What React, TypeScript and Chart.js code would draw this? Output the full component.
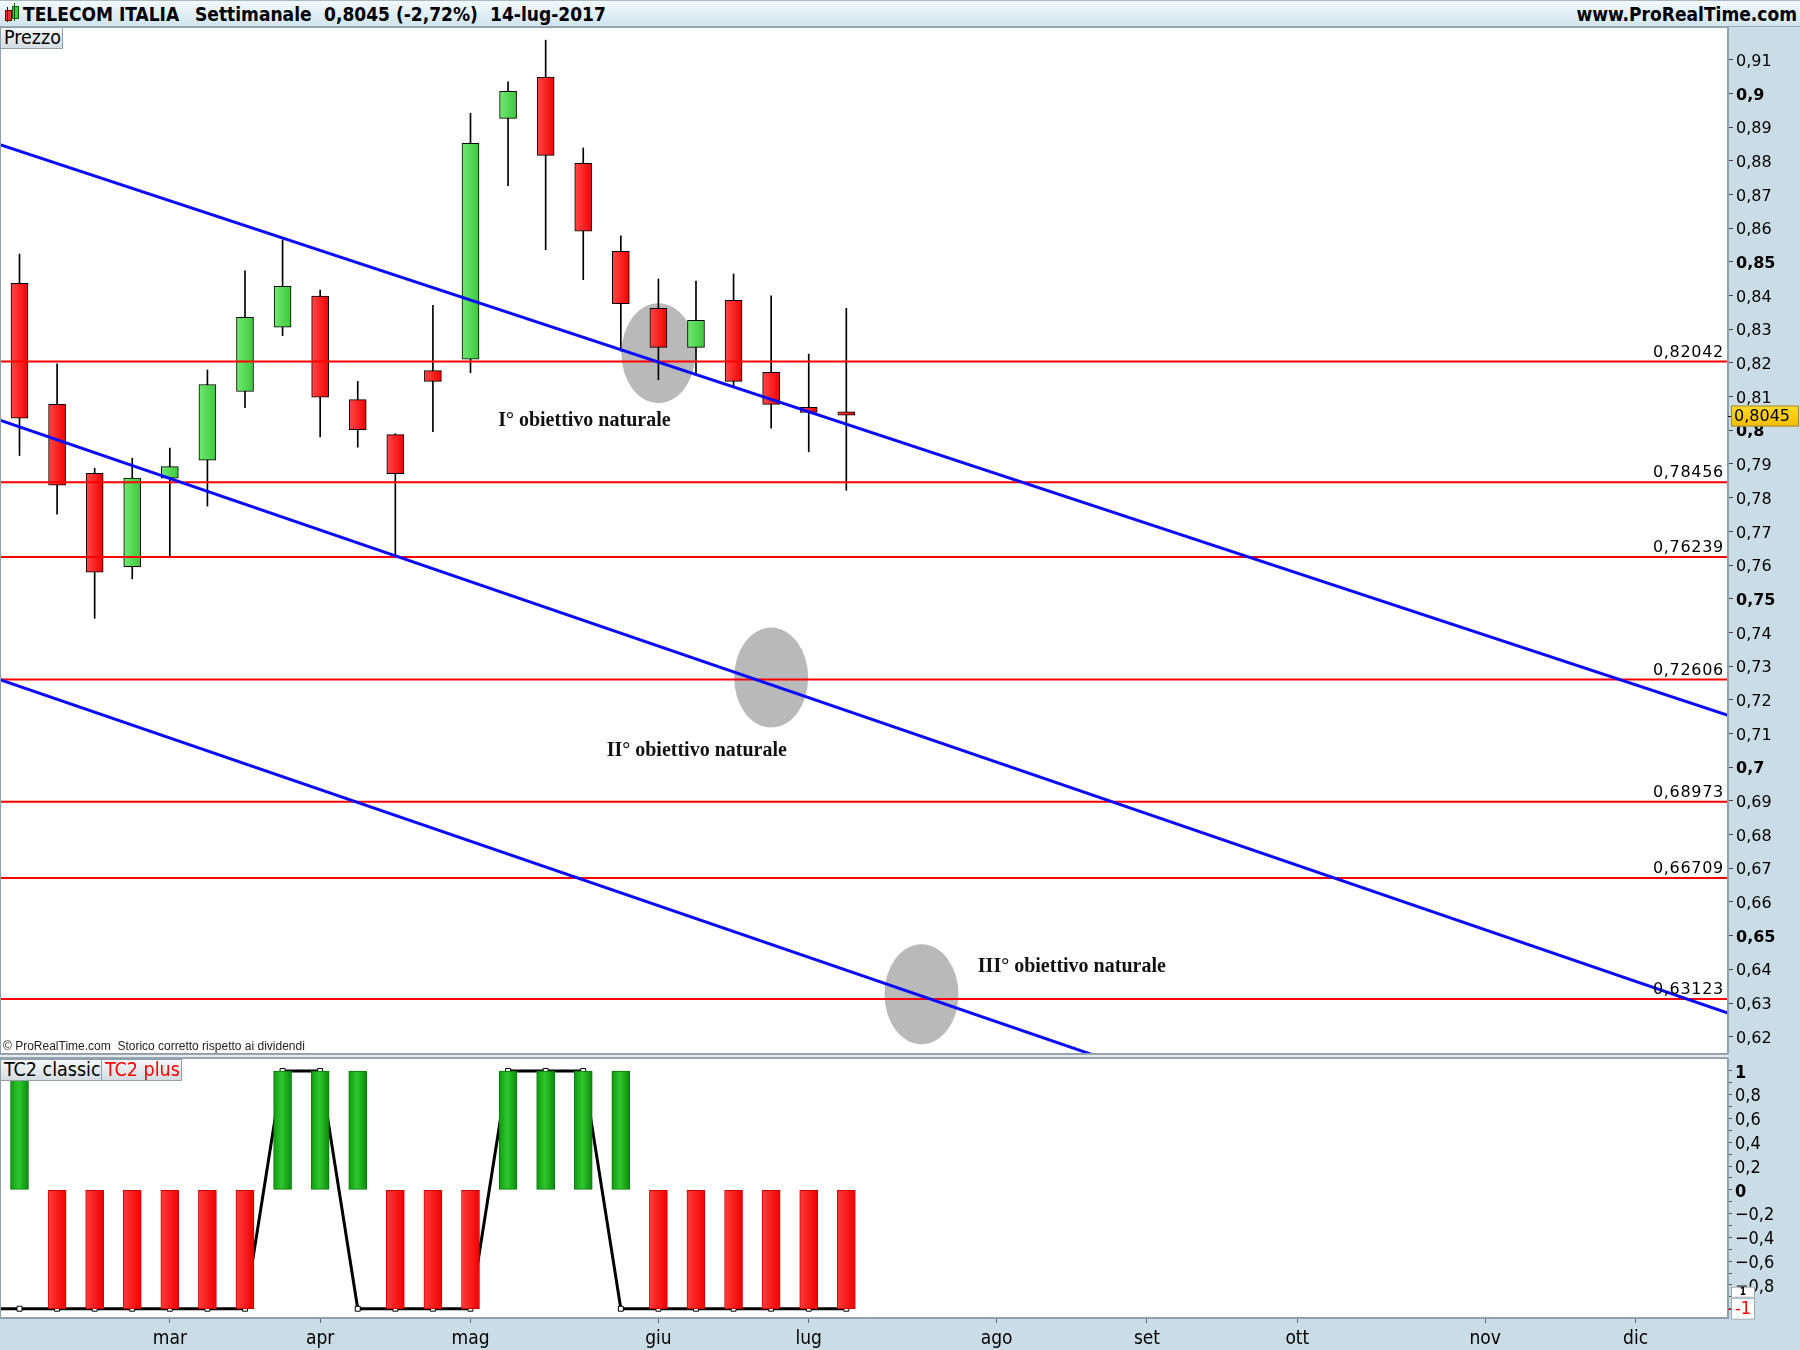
import React, { useEffect, useRef } from 'react';
import { Chart, registerables } from 'chart.js';
Chart.register(...registerables);

// ---------- DATA ----------
const weekIndex = [0, 1, 2, 3, 4, 5, 6, 7, 8, 9, 10, 11, 12, 13, 14, 15, 16, 17, 18, 19, 20, 21, 22];
const opens = [0.8436, 0.8077, 0.7872, 0.7595, 0.7858, 0.7911, 0.8115, 0.8306, 0.8398, 0.8091, 0.7987, 0.8177, 0.8211, 0.8926, 0.9048, 0.8792, 0.8531, 0.8362, 0.8246, 0.8386, 0.8172, 0.8068, 0.8055];
const highs = [0.8523, 0.8197, 0.7887, 0.7917, 0.7947, 0.8179, 0.8473, 0.8565, 0.8416, 0.8145, 0.7990, 0.8371, 0.8941, 0.9034, 0.9158, 0.8838, 0.8577, 0.8449, 0.8443, 0.8464, 0.8399, 0.8226, 0.8362];
const lows = [0.7925, 0.7751, 0.7442, 0.7559, 0.7625, 0.7775, 0.8067, 0.8281, 0.7980, 0.7950, 0.7627, 0.7996, 0.8171, 0.8726, 0.8536, 0.8447, 0.8235, 0.8150, 0.8169, 0.8129, 0.8006, 0.7936, 0.7822];
const closes = [0.8036, 0.7837, 0.7579, 0.7858, 0.7892, 0.8136, 0.8335, 0.8427, 0.8098, 0.8002, 0.7871, 0.8145, 0.8852, 0.9006, 0.8816, 0.8591, 0.8376, 0.8246, 0.8326, 0.8145, 0.8077, 0.8053, 0.8045];
const lastPrice = 0.8045;

const supportLevels = [0.82042, 0.78456, 0.76239, 0.72606, 0.68973, 0.66709, 0.63123];

const channelX = [-0.52, 45.46];
const channelUpper = [0.8848, 0.7154];
const channelMiddle = [0.8030, 0.6270];
const channelLower = [0.7260, 0.5499];

const targetNames = ['I° obiettivo naturale', 'II° obiettivo naturale', 'III° obiettivo naturale'];
const targetTextX = [15.03, 18.02, 28.0];
const targetTextY = [0.8029, 0.7048, 0.6407];
const targetCircleX = [17.0, 20.0, 24.0];
const targetCircleY = [0.8229, 0.7266, 0.6326];

const tc2Plus = [1, -1, -1, -1, -1, -1, -1, 1, 1, 1, -1, -1, -1, 1, 1, 1, 1, -1, -1, -1, -1, -1, -1];
const tc2ClassicX = [-1, 0, 1, 2, 3, 4, 5, 6, 7, 8, 9, 10, 11, 12, 13, 14, 15, 16, 17, 18, 19, 20, 21, 22];
const tc2Classic = [-1, -1, -1, -1, -1, -1, -1, -1, 1, 1, -1, -1, -1, -1, 1, 1, 1, -1, -1, -1, -1, -1, -1, -1];

const monthLabels = ['mar', 'apr', 'mag', 'giu', 'lug', 'ago', 'set', 'ott', 'nov', 'dic'];
const monthIdx = [4, 8, 12, 17, 21, 26, 30, 34, 39, 43];

const priceTicks = [62, 63, 64, 65, 66, 67, 68, 69, 70, 71, 72, 73, 74, 75, 76, 77, 78, 79, 80, 81, 82, 83, 84, 85, 86, 87, 88, 89, 90, 91];
const indTicks = [-10, -9, -8, -7, -6, -5, -4, -3, -2, -1, 0, 1, 2, 3, 4, 5, 6, 7, 8, 9, 10];

// ---------- LAYOUT / STYLE ----------
const X_MIN = -0.519;
const X_MAX = 45.46;
const P_MIN = 0.61487;
const P_MAX = 0.9197;
const I_MIN = -1.078;
const I_MAX = 1.109;
const AXIS_W = 72;
const FONT_COND = "'DejaVu Sans Condensed', 'Liberation Sans Narrow', 'Roboto Condensed', Roboto, sans-serif";
const FONT_SANS = "'DejaVu Sans', Verdana, sans-serif";
const PANEL_BG = '#cadde7';
const BORDER = '#8fa0aa';

const comma = (s: string) => s.replace('.', ',');

function candleFill(c: any) {
  const i = c.dataIndex;
  const up = closes[i] >= opens[i];
  const solid = up ? '#55d655' : '#ff2020';
  const xs = c.chart && c.chart.scales ? c.chart.scales.x : null;
  if (!xs || i === undefined) return solid;
  const px = xs.getPixelForValue(weekIndex[i]);
  if (!isFinite(px)) return solid;
  const g = c.chart.ctx.createLinearGradient(px - 9, 0, px + 9, 0);
  if (up) { g.addColorStop(0, '#72ea72'); g.addColorStop(1, '#3cc63c'); }
  else { g.addColorStop(0, '#ff4a4a'); g.addColorStop(1, '#f20000'); }
  return g;
}

function tcFill(c: any) {
  const i = c.dataIndex;
  const up = tc2Plus[i] > 0;
  const solid = up ? '#1fae1f' : '#ff1a1a';
  const xs = c.chart && c.chart.scales ? c.chart.scales.x : null;
  if (!xs || i === undefined) return solid;
  const px = xs.getPixelForValue(weekIndex[i]);
  if (!isFinite(px)) return solid;
  const g = c.chart.ctx.createLinearGradient(px - 9, 0, px + 9, 0);
  if (up) { g.addColorStop(0, '#0e9a0e'); g.addColorStop(0.45, '#2fc82f'); g.addColorStop(1, '#0a8a0a'); }
  else { g.addColorStop(0, '#ff3c3c'); g.addColorStop(1, '#f00000'); }
  return g;
}

const whiteAreaPlugin = {
  id: 'whiteArea',
  beforeDraw(chart: any) {
    const { ctx, chartArea: a } = chart;
    ctx.save();
    ctx.fillStyle = '#ffffff';
    ctx.fillRect(a.left, a.top, a.right - a.left, a.bottom - a.top);
    ctx.restore();
  },
  afterDraw(chart: any) {
    const { ctx, chartArea: a } = chart;
    ctx.save();
    ctx.strokeStyle = BORDER;
    ctx.lineWidth = 1;
    ctx.strokeRect(a.left + 0.5, a.top + 0.5, a.right - a.left - 1, a.bottom - a.top - 1);
    ctx.restore();
  },
};

const ellipsePlugin = {
  id: 'ellipses',
  beforeDatasetsDraw(chart: any) {
    const { ctx, chartArea: a, scales } = chart;
    ctx.save();
    ctx.beginPath();
    ctx.rect(a.left, a.top, a.right - a.left, a.bottom - a.top);
    ctx.clip();
    ctx.fillStyle = '#b9b9b9';
    targetCircleX.forEach((x, i) => {
      const px = scales.x.getPixelForValue(x);
      const py = scales.y.getPixelForValue(targetCircleY[i]);
      ctx.beginPath();
      ctx.ellipse(px, py, 37, 50, 0, 0, Math.PI * 2);
      ctx.fill();
    });
    ctx.restore();
  },
};

const pricePlugin = {
  id: 'priceText',
  afterDatasetsDraw(chart: any) {
    const { ctx, chartArea: a, scales } = chart;
    ctx.save();
    ctx.fillStyle = '#000';
    ctx.font = `16px ${FONT_SANS}`;
    (ctx as any).letterSpacing = '0.7px';
    ctx.textAlign = 'right';
    ctx.textBaseline = 'bottom';
    supportLevels.forEach((lv) => {
      const py = scales.y.getPixelForValue(lv);
      ctx.fillText(comma(lv.toFixed(5)), a.right - 4, py - 1);
    });
    (ctx as any).letterSpacing = '0px';
    ctx.font = `bold 20px 'Liberation Serif', 'Times New Roman', serif`;
    ctx.textAlign = 'center';
    ctx.textBaseline = 'middle';
    ctx.fillStyle = '#111';
    targetNames.forEach((t, i) => {
      ctx.fillText(t, scales.x.getPixelForValue(targetTextX[i]), scales.y.getPixelForValue(targetTextY[i]));
    });
    ctx.font = `12px 'Liberation Sans', Arial, sans-serif`;
    ctx.textAlign = 'left';
    ctx.textBaseline = 'bottom';
    ctx.fillStyle = '#222';
    ctx.fillText('© ProRealTime.com  Storico corretto rispetto ai dividendi', a.left + 3, a.bottom - 1);
    ctx.restore();
  },
  afterDraw(chart: any) {
    const { ctx, chartArea: a, scales } = chart;
    const py = Math.round(scales.y.getPixelForValue(lastPrice)) + 1;
    ctx.save();
    ctx.fillStyle = '#000';
    ctx.fillRect(a.right, py, 4, 1);
    const x0 = a.right + 3;
    const w = 68;
    const h = 21;
    const g = ctx.createLinearGradient(0, py - h / 2, 0, py + h / 2);
    g.addColorStop(0, '#ffd92a');
    g.addColorStop(1, '#f2bd00');
    ctx.fillStyle = g;
    ctx.fillRect(x0, py - h / 2, w, h);
    ctx.strokeStyle = '#9a8a50';
    ctx.strokeRect(x0 + 0.5, py - h / 2 + 0.5, w - 1, h - 1);
    ctx.fillStyle = '#000';
    ctx.font = `16px ${FONT_SANS}`;
    ctx.textAlign = 'left';
    ctx.textBaseline = 'middle';
    ctx.fillText(comma(lastPrice.toFixed(4)), x0 + 3, py + 1);
    ctx.restore();
  },
};

const indPlugin = {
  id: 'indExtras',
  afterDraw(chart: any) {
    const { ctx, chartArea: a, scales } = chart;
    const py = scales.y.getPixelForValue(-1);
    ctx.save();
    const x0 = a.right + 3;
    ctx.fillStyle = '#ffffff';
    ctx.fillRect(x0, py - 22, 24, 11);
    ctx.strokeStyle = '#9aa6ad';
    ctx.strokeRect(x0 + 0.5, py - 22 + 0.5, 23, 10);
    ctx.fillStyle = '#000';
    ctx.font = `bold 10px ${FONT_COND}`;
    ctx.textAlign = 'center';
    ctx.textBaseline = 'middle';
    ctx.fillText('1', x0 + 12, py - 16);
    ctx.fillStyle = '#ffffff';
    ctx.fillRect(x0, py - 11, 24, 22);
    ctx.strokeRect(x0 + 0.5, py - 11 + 0.5, 23, 21);
    ctx.fillStyle = '#ff0000';
    ctx.font = `18px ${FONT_COND}`;
    ctx.fillText('-1', x0 + 12, py + 1);
    ctx.fillRect(a.right, Math.round(py), 3, 1);
    ctx.restore();
  },
};

function priceConfig(): any {
  const lineDs = (ys: number[], color: string, width: number, order: number) => ({
    type: 'line',
    data: [{ x: channelX[0], y: ys[0] }, { x: channelX[1], y: ys[1] }],
    borderColor: color,
    borderWidth: width,
    pointRadius: 0,
    tension: 0,
    order,
  });
  return {
    type: 'bar',
    data: {
      datasets: [
        lineDs(channelUpper, '#0a0aff', 3, 0),
        lineDs(channelMiddle, '#0a0aff', 3, 0),
        lineDs(channelLower, '#0a0aff', 3, 0),
        ...supportLevels.map((lv) => ({
          type: 'line',
          data: [{ x: -2, y: lv }, { x: 48, y: lv }],
          borderColor: '#ff0000',
          borderWidth: 2,
          pointRadius: 0,
          order: 1,
        })),
        {
          type: 'bar',
          data: weekIndex.map((i) => ({ x: i, y: [lows[i], highs[i]] })),
          backgroundColor: '#000',
          borderWidth: 0,
          barThickness: 1,
          grouped: false,
          order: 3,
        },
        {
          type: 'bar',
          data: weekIndex.map((i) => ({ x: i, y: [Math.min(opens[i], closes[i]), Math.max(opens[i], closes[i])] })),
          backgroundColor: candleFill,
          borderColor: '#000',
          borderWidth: 1,
          borderSkipped: false,
          barThickness: 17,
          grouped: false,
          order: 2,
        },
      ],
    },
    options: {
      responsive: false,
      animation: false,
      devicePixelRatio: 1,
      events: [],
      layout: { padding: 0, autoPadding: false },
      plugins: { legend: { display: false }, tooltip: { enabled: false } },
      scales: {
        x: {
          type: 'linear',
          min: X_MIN,
          max: X_MAX,
          display: false,
          offset: false,
          grid: { offset: false },
        },
        y: {
          type: 'linear',
          position: 'right',
          min: P_MIN,
          max: P_MAX,
          afterBuildTicks: (s: any) => { s.ticks = priceTicks.map((k) => ({ value: k / 100 })); },
          afterFit: (s: any) => { s.width = AXIS_W; s.paddingTop = 0; s.paddingBottom = 0; },
          ticks: {
            autoSkip: false,
            padding: 3,
            labelOffset: 2,
            color: '#000',
            callback: (v: number) => comma((Math.round(v * 100) / 100).toString()),
            font: (c: any) => {
              const v = c && c.tick ? c.tick.value : 0;
              const k = Math.round(v * 100);
              return { family: FONT_SANS, size: 16, weight: k % 5 === 0 ? 'bold' : 'normal' };
            },
          },
          grid: { drawOnChartArea: false, drawTicks: true, tickLength: 5, color: '#444' },
          border: { display: true, color: BORDER },
        },
      },
    },
    plugins: [whiteAreaPlugin, ellipsePlugin, pricePlugin],
  };
}

function indConfig(): any {
  return {
    type: 'bar',
    data: {
      datasets: [
        {
          type: 'line',
          data: tc2ClassicX.map((x, i) => ({ x, y: tc2Classic[i] })),
          borderColor: '#000',
          borderWidth: 3,
          tension: 0,
          pointStyle: 'rect',
          pointRadius: 3.5,
          pointBackgroundColor: '#fff',
          pointBorderColor: '#000',
          pointBorderWidth: 1,
          order: 2,
        },
        {
          type: 'bar',
          data: weekIndex.map((i) => ({ x: i, y: tc2Plus[i] })),
          backgroundColor: tcFill,
          borderColor: (c: any) => (tc2Plus[c.dataIndex] > 0 ? '#0a7a0a' : '#d00000'),
          borderWidth: 1,
          borderSkipped: false,
          barThickness: 18,
          grouped: false,
          order: 1,
        },
      ],
    },
    options: {
      responsive: false,
      animation: false,
      devicePixelRatio: 1,
      events: [],
      layout: { padding: 0, autoPadding: false },
      plugins: { legend: { display: false }, tooltip: { enabled: false } },
      scales: {
        x: {
          type: 'linear',
          position: 'bottom',
          min: X_MIN,
          max: X_MAX,
          offset: false,
          afterBuildTicks: (s: any) => { s.ticks = monthIdx.map((v) => ({ value: v })); },
          afterFit: (s: any) => { s.height = 32; s.paddingLeft = 0; s.paddingRight = 0; },
          ticks: {
            autoSkip: false,
            maxRotation: 0,
            padding: 5,
            color: '#000',
            font: { family: FONT_COND, size: 19 },
            callback: (v: number) => {
              const j = monthIdx.indexOf(Math.round(v));
              return j >= 0 ? monthLabels[j] : '';
            },
          },
          grid: { drawOnChartArea: false, drawTicks: true, tickLength: 5, color: '#667', offset: false },
          border: { display: true, color: BORDER },
        },
        y: {
          type: 'linear',
          position: 'right',
          min: I_MIN,
          max: I_MAX,
          afterBuildTicks: (s: any) => { s.ticks = indTicks.map((k) => ({ value: k / 10 })); },
          afterFit: (s: any) => { s.width = AXIS_W; s.paddingTop = 0; s.paddingBottom = 0; },
          ticks: {
            autoSkip: false,
            padding: 3,
            labelOffset: 2,
            color: '#000',
            callback: (v: number) => {
              const k = Math.round(v * 10);
              if (k % 2 !== 0 || k === -10) return '';
              if (k === 10) return '1';
              if (k === 0) return '0';
              const s = comma((Math.abs(k) / 10).toString());
              return k < 0 ? '−' + s : s;
            },
            font: (c: any) => {
              const v = c && c.tick ? c.tick.value : 0.5;
              const k = Math.round(v * 10);
              return { family: FONT_COND, size: 18, weight: k === 10 || k === 0 ? 'bold' : 'normal' };
            },
          },
          grid: { drawOnChartArea: false, drawTicks: true, tickLength: 4, color: '#555' },
          border: { display: true, color: BORDER },
        },
      },
    },
    plugins: [whiteAreaPlugin, indPlugin],
  };
}

const boxStyle: React.CSSProperties = {
  position: 'absolute',
  height: 22,
  boxSizing: 'border-box',
  border: '1px solid #8fa0aa',
  background: 'linear-gradient(#f6f8f9, #d3dce1)',
  fontFamily: FONT_COND,
  fontSize: 19.5,
  lineHeight: '20px',
  padding: '0 3px',
  whiteSpace: 'nowrap',
  overflow: 'hidden',
};

export default function App() {
  const priceRef = useRef<HTMLCanvasElement>(null);
  const indRef = useRef<HTMLCanvasElement>(null);
  useEffect(() => {
    document.body.style.margin = '0';
    const pc = new Chart(priceRef.current as HTMLCanvasElement, priceConfig());
    const ic = new Chart(indRef.current as HTMLCanvasElement, indConfig());
    return () => {
      pc.destroy();
      ic.destroy();
    };
  }, []);

  const hdr: React.CSSProperties = {
    position: 'absolute',
    top: 2,
    fontFamily: FONT_COND,
    fontSize: 19,
    fontWeight: 600,
    lineHeight: '23px',
    color: '#000',
    whiteSpace: 'nowrap',
  };

  return (
    <div style={{ position: 'absolute', left: 0, top: 0, width: 1800, height: 1350, background: PANEL_BG, overflow: 'hidden' }}>
      <div style={{ position: 'absolute', left: 0, top: 0, width: 1800, height: 27, boxSizing: 'border-box', background: 'linear-gradient(#f2f9fc, #d0e4ee)', borderTop: '1px solid #a9b9c2', borderBottom: '1px solid #98aab5' }}>
        <div style={{ position: 'absolute', left: 5, top: 9, width: 5, height: 9, background: '#ee3030', border: '1px solid #700' }} />
        <div style={{ position: 'absolute', left: 7, top: 6, width: 1, height: 15, background: '#600' }} />
        <div style={{ position: 'absolute', left: 12, top: 5, width: 5, height: 11, background: '#40cc40', border: '1px solid #060' }} />
        <div style={{ position: 'absolute', left: 14, top: 2, width: 1, height: 18, background: '#050' }} />
        <span style={{ ...hdr, left: 23 }}>TELECOM ITALIA</span>
        <span style={{ ...hdr, left: 195 }}>Settimanale</span>
        <span style={{ ...hdr, left: 324 }}>0,8045 (-2,72%)</span>
        <span style={{ ...hdr, left: 490 }}>14-lug-2017</span>
        <span style={{ ...hdr, right: 3 }}>www.ProRealTime.com</span>
      </div>
      <canvas ref={priceRef} width={1800} height={1027} style={{ position: 'absolute', left: 0, top: 27, display: 'block' }} />
      <div style={{ ...boxStyle, left: 0, top: 27, width: 63, color: '#000' }}>Prezzo</div>
      <div style={{ position: 'absolute', left: 0, top: 1054, width: 1728, height: 4, boxSizing: 'border-box', background: '#e4eaee', borderTop: '1px solid #98a8b2', borderBottom: '1px solid #98a8b2' }} />
      <canvas ref={indRef} width={1800} height={292} style={{ position: 'absolute', left: 0, top: 1058, display: 'block' }} />
      <div style={{ ...boxStyle, left: 0, top: 1059, width: 102, color: '#000' }}>TC2 classic</div>
      <div style={{ ...boxStyle, left: 101, top: 1059, width: 81, color: '#ff0000' }}>TC2 plus</div>
    </div>
  );
}
